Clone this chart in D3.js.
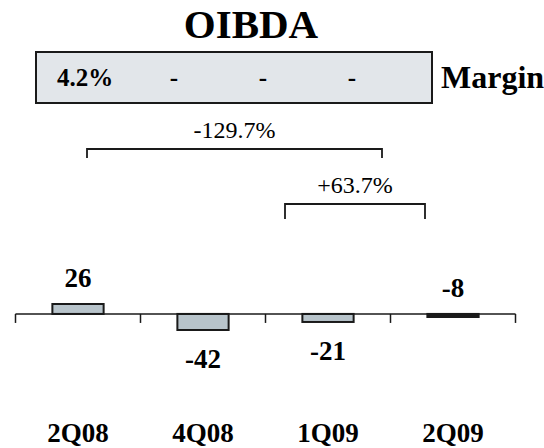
<!DOCTYPE html>
<html><head><meta charset="utf-8">
<script src="https://cdn.jsdelivr.net/npm/d3@7"></script>
<style>
html,body{margin:0;padding:0;background:#fff;}
svg{display:block;}
</style></head>
<body>
<svg id="c" width="544" height="448"></svg>
<script>
const categories = ["2Q08", "4Q08", "1Q09", "2Q09"];
const oibda = [26, -42, -21, -8];
const margins = ["4.2%", "-", "-", "-"];
const growthLabels = ["-129.7%", "+63.7%"];
const title = "OIBDA";
const marginTitle = "Margin";

const FONT = '"Liberation Serif"';
const svg = d3.select("#c");
const ink = "#1a1a1a";
const txt = sel => sel.style("font-family", FONT).attr("fill", "#000");

// title
svg.append("text").attr("x", 251).attr("y", 38).attr("text-anchor", "middle")
  .attr("font-size", 41).attr("font-weight", "bold").call(txt).text(title);

// margin box
svg.append("rect").attr("x", 36).attr("y", 52).attr("width", 396).attr("height", 51)
  .attr("fill", "#e2e6ea").attr("stroke", ink).attr("stroke-width", 2);
const mx = d3.scalePoint().domain(categories).range([85, 352]);
svg.selectAll("text.m").data(margins).join("text").attr("class", "m")
  .attr("x", (d, i) => mx(categories[i])).attr("y", 86).attr("text-anchor", "middle")
  .attr("font-size", 25).attr("font-weight", "bold").call(txt).text(d => d);
svg.append("text").attr("x", 441).attr("y", 88).attr("font-size", 32)
  .attr("font-weight", "bold").call(txt).text(marginTitle);

// scales
const x = d3.scaleBand().domain(categories).range([15.5, 515.5]).paddingInner(0).paddingOuter(0);
const y = d3.scaleLinear().domain([-42, 26]).range([330, 304]);
const bw = x.bandwidth() * 0.41;

// bars
svg.selectAll("rect.bar").data(oibda).join("rect").attr("class", "bar")
  .attr("x", (d, i) => x(categories[i]) + x.bandwidth() / 2 - bw / 2)
  .attr("y", d => Math.min(y(d), y(0)))
  .attr("width", bw)
  .attr("height", d => Math.abs(y(d) - y(0)))
  .attr("fill", d => Math.abs(y(d) - y(0)) < 5 ? ink : "#b8c4cb")
  .attr("stroke", ink).attr("stroke-width", 2);

// axis
const axis = d3.axisBottom(x).tickSize(0).tickFormat("");
const g = svg.append("g").attr("transform", `translate(0,${y(0)})`).call(axis);
g.select(".domain").attr("d", `M${x.range()[0]},0H${x.range()[1]}`).attr("stroke", ink).attr("stroke-width", 1.5);
const bounds = categories.map(c => x(c)).concat([x.range()[1]]);
g.selectAll("line.tk").data(bounds).join("line").attr("class", "tk")
  .attr("x1", d => d).attr("x2", d => d).attr("y1", 0).attr("y2", 9)
  .attr("stroke", ink).attr("stroke-width", 1.5);

// value labels
svg.selectAll("text.v").data(oibda).join("text").attr("class", "v")
  .attr("x", (d, i) => x(categories[i]) + x.bandwidth() / 2)
  .attr("y", d => {
    const h = Math.abs(y(d) - y(0));
    if (d >= 0 || h < 5) return Math.min(y(d), y(0)) - 17;
    return y(d) + 38;
  })
  .attr("text-anchor", "middle").attr("font-size", 27).attr("font-weight", "bold")
  .call(txt).text(d => d);

// category labels
svg.selectAll("text.cat").data(categories).join("text").attr("class", "cat")
  .attr("x", d => x(d) + x.bandwidth() / 2).attr("y", 442)
  .attr("text-anchor", "middle").attr("font-size", 27).attr("font-weight", "bold")
  .call(txt).text(d => d);

// growth brackets
const cx = c => x(c) + x.bandwidth() / 2;
const brackets = [
  {x1: cx("2Q08") + 9, x2: cx("1Q09") + 54, top: 149, bottom: 158, ty: 138, label: growthLabels[0]},
  {x1: cx("1Q09") - 43, x2: cx("2Q09") - 28, top: 204, bottom: 219, ty: 193, label: growthLabels[1]}
];
brackets.forEach(b => {
  svg.append("path").attr("d", `M${b.x1},${b.bottom}V${b.top}H${b.x2}V${b.bottom}`)
    .attr("fill", "none").attr("stroke", ink).attr("stroke-width", 1.8);
  svg.append("text").attr("x", (b.x1 + b.x2) / 2).attr("y", b.ty).attr("text-anchor", "middle")
    .attr("font-size", 24).call(txt).text(b.label);
});
</script>
</body></html>
